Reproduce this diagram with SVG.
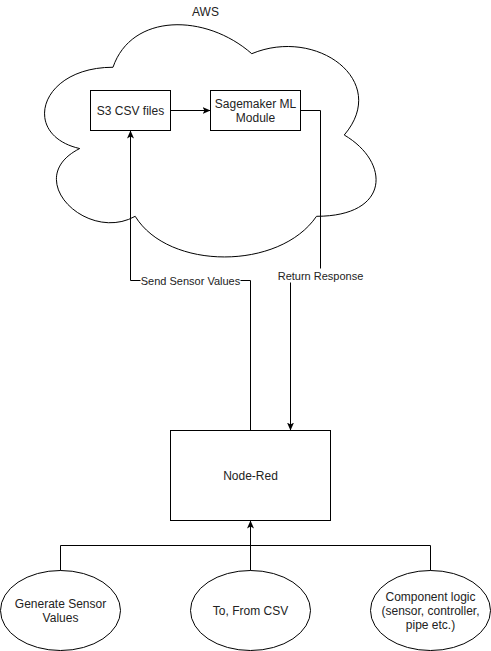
<svg xmlns="http://www.w3.org/2000/svg" width="491" height="651" viewBox="0 0 491 651">
<style>
.shape{fill:#fff;stroke:#000;stroke-width:1}
.edge{fill:none;stroke:#000;stroke-width:1}
text{font-family:"Liberation Sans",Arial,Helvetica,sans-serif;fill:#222;text-anchor:middle}
.t12{font-size:12px}
.t11{font-size:11px}
.lblbg{fill:#fff;stroke:none}
</style>
<defs>
<marker id="arr" viewBox="0 0 8 8" refX="8" refY="4" markerWidth="8" markerHeight="8" markerUnits="userSpaceOnUse" orient="auto">
<path d="M0,0.5 L8,4 L0,7.5 L2,4 Z" fill="#000"/>
</marker>
</defs>
<rect width="491" height="651" fill="#fff"/>
<g transform="translate(0.5,0.5)">
<g id="aws">
<path class="shape" d="M112.5,66.75 C38.5,66.75 20,134.5 79.2,148.05 C20,177.86 86.6,242.9 134.7,215.8 C168,270 279,270 316,215.8 C390,215.8 390,161.6 343.75,134.5 C390,80.3 316,26.1 251.25,53.2 C205,12.55 131,12.55 112.5,66.75 Z"/>
<text class="t12" x="205" y="15">AWS</text>
</g>
<g id="s3">
<rect class="shape" x="90" y="90" width="80" height="40"/>
<text class="t12" x="130" y="114">S3 CSV files</text>
</g>
<g id="sagemaker">
<rect class="shape" x="210" y="90" width="90" height="40"/>
<text class="t12" x="255" y="107">Sagemaker ML</text>
<text class="t12" x="255" y="121">Module</text>
</g>
<g id="nodered">
<rect class="shape" x="170" y="430" width="160" height="90"/>
<text class="t12" x="250" y="479">Node-Red</text>
</g>
<g id="generate">
<ellipse class="shape" cx="60" cy="610" rx="60" ry="40"/>
<text class="t12" x="60" y="607">Generate Sensor</text>
<text class="t12" x="60" y="621">Values</text>
</g>
<g id="csv">
<ellipse class="shape" cx="250" cy="610" rx="60" ry="40"/>
<text class="t12" x="250" y="614">To, From CSV</text>
</g>
<g id="component">
<ellipse class="shape" cx="430" cy="610" rx="60" ry="40"/>
<text class="t12" x="430" y="600">Component logic</text>
<text class="t12" x="430" y="614">(sensor, controller,</text>
<text class="t12" x="430" y="628">pipe etc.)</text>
</g>
<g id="connectors">
<path class="edge" d="M170,110 H210" marker-end="url(#arr)"/>
<path class="edge" d="M250,430 V280 H130 V130" marker-end="url(#arr)"/>
<path class="edge" d="M300,110 H320 V275 H290 V430" marker-end="url(#arr)"/>
<path class="edge" d="M60,570 V545 H250 V520"/>
<path class="edge" d="M430,570 V545 H250 V520"/>
<path class="edge" d="M250,570 V520" marker-end="url(#arr)"/>
<rect class="lblbg" x="140" y="273" width="100" height="14"/>
<text class="t11" x="190" y="284">Send Sensor Values</text>
<rect class="lblbg" x="277" y="268" width="86" height="14"/>
<text class="t11" x="320" y="279">Return Response</text>
</g>
</g>
</svg>
